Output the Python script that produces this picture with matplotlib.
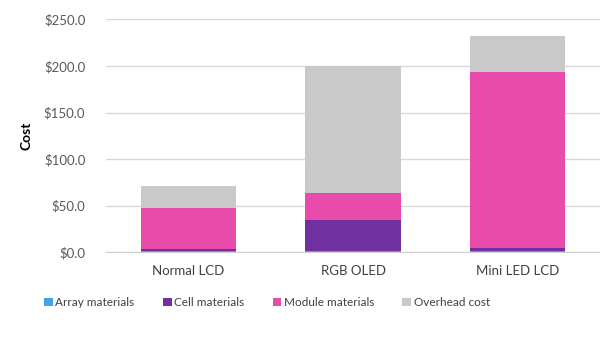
import matplotlib.pyplot as plt
import numpy as np

plt.rcParams['font.family'] = ['Lato', 'DejaVu Sans']

categories = ["Normal LCD", "RGB OLED", "Mini LED LCD"]
series = ["Array materials", "Cell materials", "Module materials", "Overhead cost"]
array_mat = [1.0, 1.5, 1.0]
cell_mat = [2.5, 33.0, 3.0]
module_mat = [44.0, 29.0, 190.0]
overhead = [23.5, 137.0, 38.0]
colors = ["#41A5E1", "#7030A0", "#E84BAA", "#C9C9C9"]

fig = plt.figure(figsize=(6.0, 3.42), dpi=100)
ax = fig.add_axes([0.177, 0.263, 0.823, 0.68])

x = np.arange(len(categories))
bottom = np.zeros(len(categories))
for name, vals, c in zip(series, [array_mat, cell_mat, module_mat, overhead], colors):
    ax.bar(x, vals, 0.58, bottom=bottom, color=c, label=name, zorder=2)
    bottom += np.array(vals)

ax.set_xlim(-0.5, 2.5)
ax.set_ylim(0, 250)
ax.set_yticks(np.arange(0, 251, 50))
ax.set_yticklabels([f"${v:.1f}" for v in np.arange(0, 251, 50)], fontsize=9.5, color="#595959")
ax.set_xticks(x)
ax.set_xticklabels(categories, fontsize=9.5, color="#404040")
ax.tick_params(axis='x', length=0, pad=9)
ax.tick_params(axis='y', length=0, pad=15)
ax.grid(axis='y', color="#D9D9D9", linewidth=1, zorder=0)
for s in ["top", "right", "left"]:
    ax.spines[s].set_visible(False)
ax.spines["bottom"].set_color("#D0D0D0")
ax.set_ylabel("Cost", fontsize=10, fontweight="bold")
ax.yaxis.set_label_coords(-0.15, 0.5)

fig.legend(loc="center", bbox_to_anchor=(0.445, 0.115), ncol=4, frameon=False,
           fontsize=8.5, handlelength=0.75, handleheight=0.75, handletextpad=0.2,
           columnspacing=2.4, labelcolor="#404040")

plt.savefig("out.png", dpi=100)
